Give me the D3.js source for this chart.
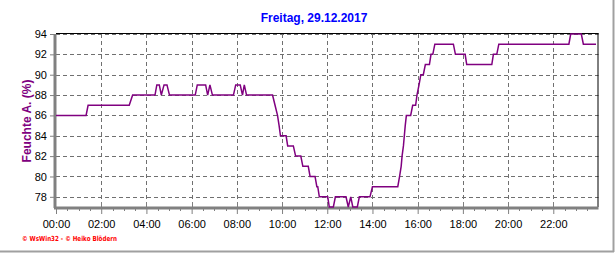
<!DOCTYPE html>
<html>
<head>
<meta charset="utf-8">
<script src="https://cdn.jsdelivr.net/npm/d3@7"></script>
<style>
  body { margin: 0; background: #fff; }
  svg { display: block; font-family: "Liberation Sans", Arial, sans-serif; }
</style>
</head>
<body>
<svg id="mainChart" width="616" height="253"></svg>
<script>
const title = "Freitag, 29.12.2017";
const yLabel = "Feuchte A.  (%)";
const credit = "\u00a9 WsWin32  -  \u00a9 Heiko Blödern";

// Zeit in Stunden, Feuchte in %
const hours = [0, 1.33, 1.42, 3.24, 3.39, 4.38, 4.46, 4.57, 4.66, 4.78, 4.91, 5.02,
  6.16, 6.25, 6.62, 6.71, 6.81, 6.92, 7.85, 7.95, 8.15, 8.25, 8.33, 8.43,
  9.58, 9.69, 9.80, 9.87, 9.93, 10.18, 10.25, 10.50, 10.60, 10.83, 10.92, 11.16,
  11.24, 11.46, 11.54, 11.58, 11.65, 12.02, 12.09, 12.27, 12.36, 12.83, 12.93, 13.04,
  13.13, 13.33, 13.42, 13.89, 14.00, 15.12, 15.20, 15.27, 15.31, 15.37, 15.41, 15.45,
  15.50, 15.69, 15.78, 15.91, 15.97, 16.06, 16.14, 16.25, 16.34, 16.52, 16.59, 16.67,
  16.76, 17.58, 17.67, 18.10, 18.17, 19.28, 19.35, 19.50, 19.59, 22.69, 22.77, 23.24,
  23.33, 23.89];
const humidity = [86, 86, 87, 87, 88, 88, 89, 89, 88, 89, 89, 88,
  88, 89, 89, 88, 89, 88, 88, 89, 89, 88, 89, 88,
  88, 87, 86, 85, 84, 84, 83, 83, 82, 82, 81, 81,
  80, 80, 79, 79, 78, 78, 77, 77, 78, 78, 77, 78,
  77, 77, 78, 78, 79, 79, 80, 81, 82, 83, 84, 85,
  86, 86, 87, 87, 88, 89, 90, 90, 91, 91, 92, 92,
  93, 93, 92, 92, 91, 91, 92, 92, 93, 93, 94, 94,
  93, 93];

const yTicks = [78, 80, 82, 84, 86, 88, 90, 92, 94];
const xTicks = [0, 2, 4, 6, 8, 10, 12, 14, 16, 18, 20, 22];
const xTickLabels = ["00:00", "02:00", "04:00", "06:00", "08:00", "10:00",
  "12:00", "14:00", "16:00", "18:00", "20:00", "22:00"];

const attr = { left: 56, right: 598.5, top: 34, bottom: 207 };

const svg = d3.select("svg#mainChart");

const scaleX = d3.scaleLinear().domain([0, 24]).range([attr.left, attr.right]);
const scaleY = d3.scaleLinear().domain([77, 94]).range([attr.bottom, attr.top]);

// outer frame (right / bottom)
svg.append("line").attr("x1", 613.5).attr("x2", 613.5).attr("y1", 0).attr("y2", 252)
  .attr("stroke", "#a0a0a0").attr("stroke-width", 2);
svg.append("line").attr("x1", 0).attr("x2", 614).attr("y1", 251.5).attr("y2", 251.5)
  .attr("stroke", "#a0a0a0").attr("stroke-width", 2);

// grid
svg.append("g").selectAll("line")
  .data(yTicks)
  .enter().append("line")
  .attr("x1", attr.left).attr("x2", attr.right)
  .attr("y1", d => Math.round(scaleY(d)) + 0.5).attr("y2", d => Math.round(scaleY(d)) + 0.5)
  .attr("stroke", "#707070").attr("stroke-dasharray", "4,3");

svg.append("g").selectAll("line")
  .data(xTicks.slice(1))
  .enter().append("line")
  .attr("x1", d => Math.round(scaleX(d)) + 0.5).attr("x2", d => Math.round(scaleX(d)) + 0.5)
  .attr("y1", attr.top).attr("y2", attr.bottom)
  .attr("stroke", "#707070").attr("stroke-dasharray", "4,3");

// top + right border
svg.append("line").attr("x1", attr.left).attr("x2", attr.right).attr("y1", attr.top - 0.5).attr("y2", attr.top - 0.5)
  .attr("stroke", "#000");
svg.append("line").attr("x1", attr.right - 0.5).attr("x2", attr.right - 0.5).attr("y1", attr.top - 1).attr("y2", attr.bottom)
  .attr("stroke", "#000");

// axes
const axisY = d3.axisLeft(scaleY).tickValues(yTicks).tickSize(5).tickPadding(3);
const gy = svg.append("g")
  .attr("transform", `translate(${attr.left - 1}, 0)`)
  .call(axisY);

const axisX = d3.axisBottom(scaleX).tickValues(xTicks)
  .tickFormat((d, i) => xTickLabels[i]).tickSize(6).tickPadding(6);
const gx = svg.append("g")
  .attr("transform", `translate(0, ${attr.bottom + 1})`)
  .call(axisX);

// minor ticks x (half hours)
svg.append("g").selectAll("line")
  .data(d3.range(1, 48).filter(i => i % 4 !== 0))
  .enter().append("line")
  .attr("x1", i => Math.round(scaleX(i / 2)) + 0.5).attr("x2", i => Math.round(scaleX(i / 2)) + 0.5)
  .attr("y1", attr.bottom + 1).attr("y2", attr.bottom + 4)
  .attr("stroke", "#808080");
// major x ticks into the plot
svg.append("g").selectAll("line")
  .data(xTicks.slice(1))
  .enter().append("line")
  .attr("x1", d => Math.round(scaleX(d)) + 0.5).attr("x2", d => Math.round(scaleX(d)) + 0.5)
  .attr("y1", attr.bottom - 5).attr("y2", attr.bottom)
  .attr("stroke", "#808080");

[gx, gy].forEach(g => {
  g.select(".domain").attr("stroke", "#808080").attr("stroke-width", 3);
  g.selectAll(".tick line").attr("stroke", "#808080");
  g.selectAll(".tick text").attr("fill", "#000")
    .style("font-size", "11px")
    .style("font-family", "'Liberation Sans', Arial, sans-serif");
});
gy.select(".domain").attr("d", `M0,${attr.top}V${attr.bottom + 1}`);
gx.select(".domain").attr("d", `M${attr.left - 2},0H${attr.right}`);

// data line
const points = hours.map((h, i) => ({ h: h, v: humidity[i] }));
const line = d3.line().x(d => scaleX(d.h)).y(d => scaleY(d.v));
svg.append("path")
  .datum(points)
  .attr("fill", "none")
  .attr("stroke", "#800080")
  .attr("stroke-width", 1.5)
  .attr("d", line);

// texts
svg.append("text")
  .attr("x", 314).attr("y", 22)
  .attr("text-anchor", "middle")
  .style("font-size", "12px").style("font-weight", "bold")
  .attr("fill", "#0000ff")
  .text(title);

svg.append("text")
  .attr("transform", "rotate(-90)")
  .attr("x", -121).attr("y", 31)
  .attr("text-anchor", "middle")
  .style("font-size", "12px").style("font-weight", "bold")
  .attr("fill", "#800080")
  .text(yLabel);

svg.append("text")
  .attr("x", 22).attr("y", 241)
  .attr("textLength", 95).attr("lengthAdjust", "spacingAndGlyphs")
  .style("font-size", "7px").style("font-weight", "bold")
  .style("font-family", "'DejaVu Sans', sans-serif")
  .attr("fill", "#ff0000")
  .text(credit);
</script>
</body>
</html>
